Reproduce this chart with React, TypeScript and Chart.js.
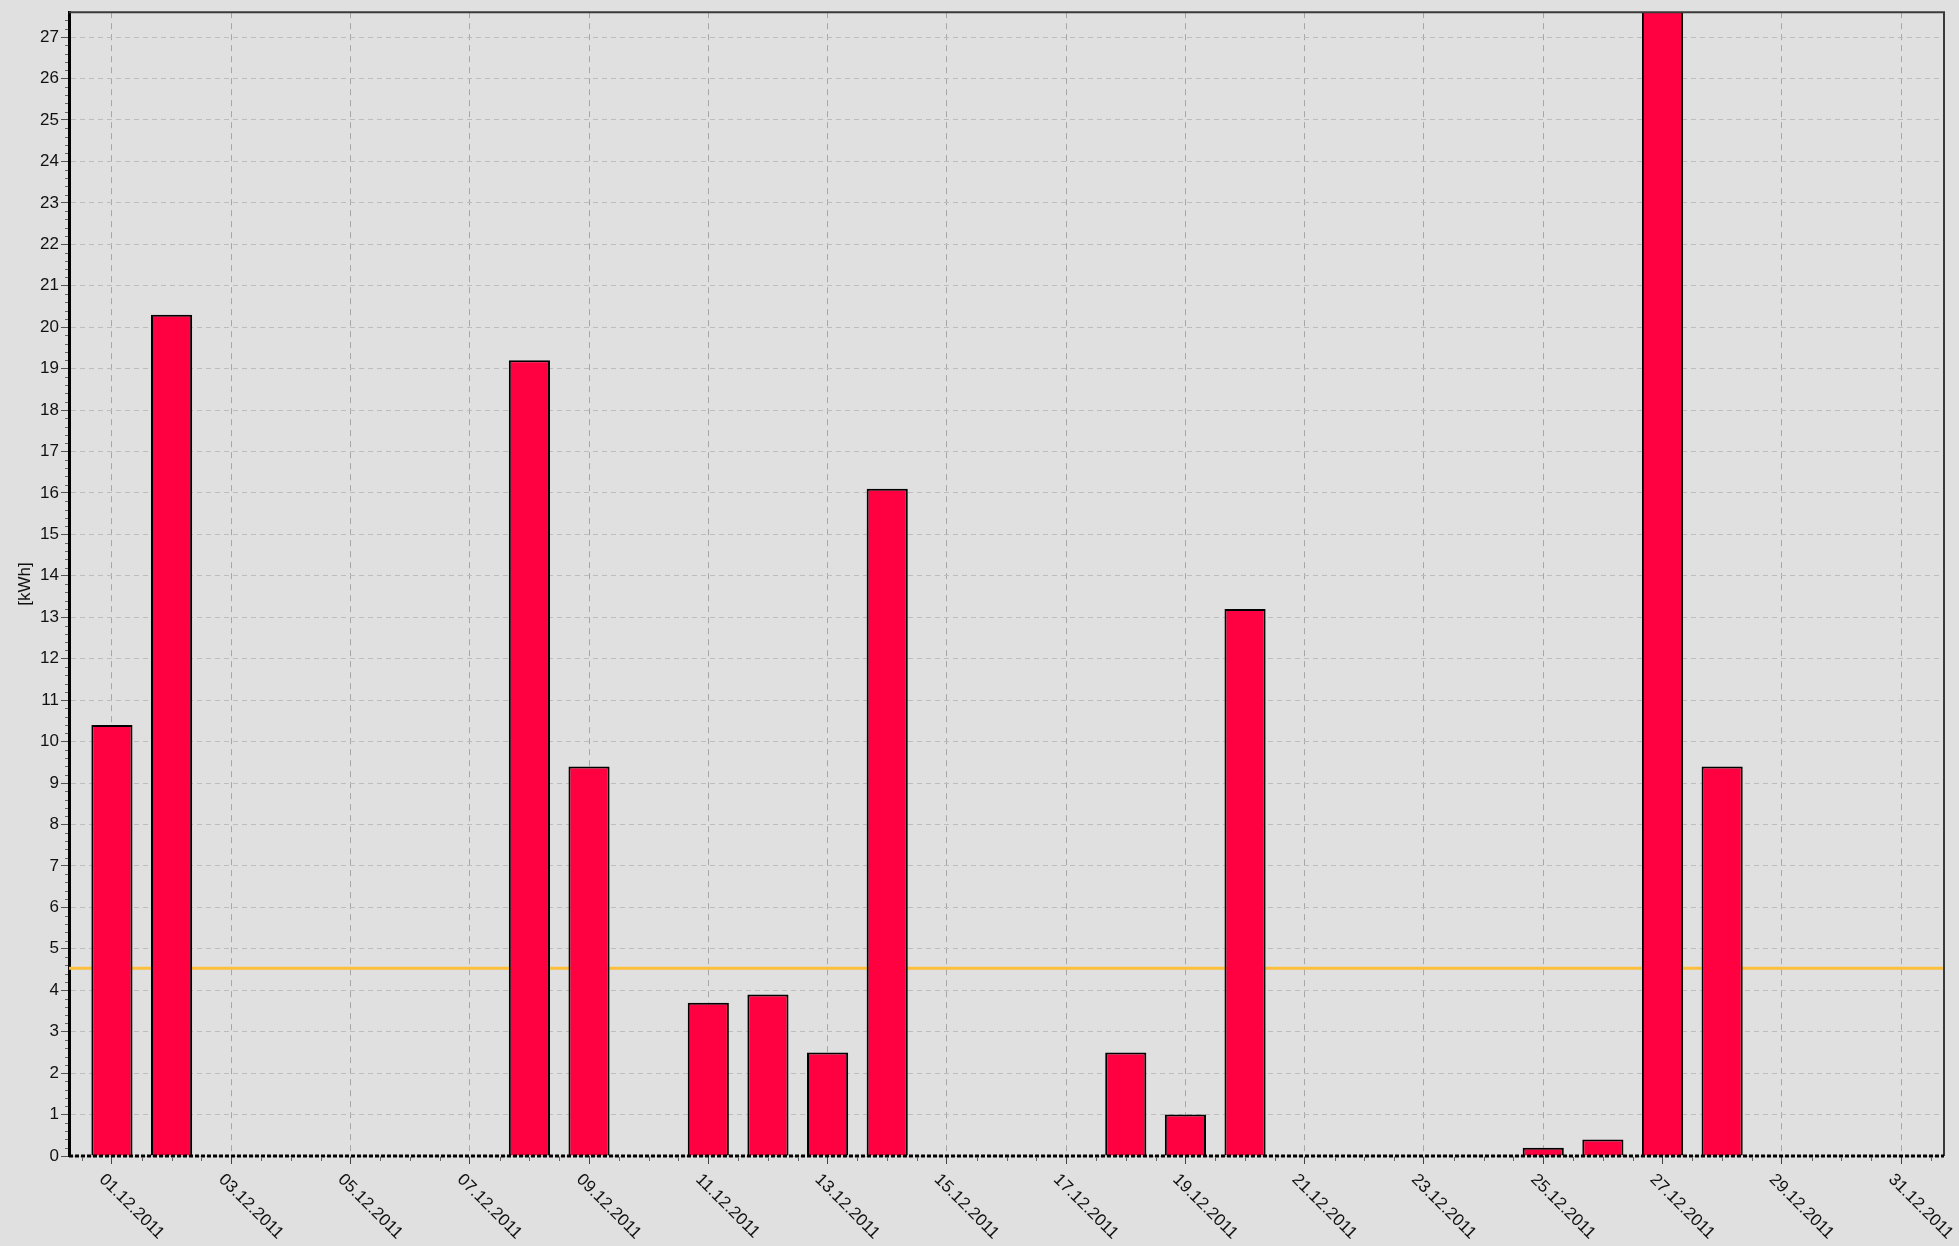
import React, { useEffect, useRef } from "react";
import { Chart, registerables } from "chart.js";

Chart.register(...registerables);

// ---- data ----
const DAYS = [
  "01.12.2011", "02.12.2011", "03.12.2011", "04.12.2011", "05.12.2011",
  "06.12.2011", "07.12.2011", "08.12.2011", "09.12.2011", "10.12.2011",
  "11.12.2011", "12.12.2011", "13.12.2011", "14.12.2011", "15.12.2011",
  "16.12.2011", "17.12.2011", "18.12.2011", "19.12.2011", "20.12.2011",
  "21.12.2011", "22.12.2011", "23.12.2011", "24.12.2011", "25.12.2011",
  "26.12.2011", "27.12.2011", "28.12.2011", "29.12.2011", "30.12.2011",
  "31.12.2011",
];
const ENERGY_KWH = [
  10.4, 20.3, 0, 0, 0, 0, 0, 19.2, 9.4, 0,
  3.7, 3.9, 2.5, 16.1, 0, 0, 0, 2.5, 1.0, 13.2,
  0, 0, 0, 0, 0.2, 0.4, 28.2, 9.4, 0, 0,
  0,
];
const Y_TICKS = [0, 1, 2, 3, 4, 5, 6, 7, 8, 9, 10, 11, 12, 13, 14, 15, 16, 17, 18, 19, 20, 21, 22, 23, 24, 25, 26, 27];
const X_LABEL_INDEXES = [0, 2, 4, 6, 8, 10, 12, 14, 16, 18, 20, 22, 24, 26, 28, 30];
const Y_TITLE = "[kWh]";

const X_MIN = -0.72;
const X_MAX = 30.72;
const Y_MIN = 0;
const Y_MAX = 27.6;

const AVERAGE = ENERGY_KWH.reduce((s, v) => s + v, 0) / ENERGY_KWH.length;

const FONT = '"Liberation Sans", Arial, sans-serif';

const decorations = {
  id: "decorations",
  afterDraw(chart: any) {
    const { ctx, chartArea: a, scales } = chart;
    const x = scales.x;
    const y = scales.y;
    ctx.save();
    // top & right frame
    ctx.strokeStyle = "#3a3a3a";
    ctx.lineWidth = 2;
    ctx.beginPath();
    ctx.moveTo(a.left, a.top);
    ctx.lineTo(a.right, a.top);
    ctx.lineTo(a.right, a.bottom);
    ctx.stroke();

    // bottom axis (dotted black)
    const y0 = y.getPixelForValue(0);
    ctx.strokeStyle = "#000";
    ctx.lineWidth = 3;
    ctx.setLineDash([4, 2]);
    ctx.beginPath();
    ctx.moveTo(a.left, y0);
    ctx.lineTo(a.right, y0);
    ctx.stroke();
    ctx.setLineDash([]);

    // minor ticks
    ctx.strokeStyle = "#666";
    ctx.lineWidth = 1;
    ctx.beginPath();
    for (let k = 1; k * 0.2 < Y_MAX; k++) {
      if (k % 5 === 0) continue;
      const py = Math.round(y.getPixelForValue(k * 0.2)) + 0.5;
      ctx.moveTo(a.left - 4, py);
      ctx.lineTo(a.left - 1, py);
    }
    for (let d = -0.5; d <= 30.5; d += 0.5) {
      if (Number.isInteger(d) && d % 2 === 0) continue;
      const px = Math.round(x.getPixelForValue(d)) + 0.5;
      ctx.moveTo(px, y0 + 1);
      ctx.lineTo(px, y0 + 5);
    }
    ctx.stroke();

    // rotated x labels
    ctx.font = `17px ${FONT}`;
    ctx.fillStyle = "#111";
    ctx.textAlign = "left";
    ctx.textBaseline = "top";
    for (const i of X_LABEL_INDEXES) {
      const px = x.getPixelForValue(i);
      ctx.save();
      ctx.translate(px - 4, a.bottom + 15);
      ctx.rotate(Math.PI / 4);
      ctx.fillText(DAYS[i], 0, 0);
      ctx.restore();
    }
    ctx.restore();
  },
};

export default function App() {
  const ref = useRef<HTMLCanvasElement | null>(null);

  useEffect(() => {
    if (!ref.current) return;
    const chart = new Chart(ref.current, {
      type: "bar",
      data: {
        datasets: [
          {
            type: "bar",
            label: "kWh",
            data: ENERGY_KWH.map((v, i) => ({ x: i, y: v })),
            backgroundColor: "#FF0040",
            borderColor: "#000000",
            borderWidth: 2,
            borderSkipped: "start",
            categoryPercentage: 1,
            barPercentage: 0.69,
            order: 1,
          } as any,
          {
            type: "line",
            label: "avg",
            data: [
              { x: X_MIN, y: AVERAGE },
              { x: X_MAX, y: AVERAGE },
            ],
            borderColor: "#FDBF3B",
            borderWidth: 3,
            pointRadius: 0,
            order: 2,
          } as any,
        ],
      },
      options: {
        responsive: false,
        animation: false,
        devicePixelRatio: 1,
        layout: { padding: { top: 11, right: 15, left: 0, bottom: 0 } },
        plugins: {
          legend: { display: false },
          tooltip: { enabled: false },
          title: { display: false },
        },
        scales: {
          x: {
            type: "linear",
            min: X_MIN,
            max: X_MAX,
            offset: false,
            afterBuildTicks: (scale: any) => {
              scale.ticks = X_LABEL_INDEXES.map((v) => ({ value: v }));
            },
            afterFit: (scale: any) => {
              scale.height = 90;
            },
            ticks: { display: false },
            grid: {
              offset: false,
              color: "#a6a6a6",
              lineWidth: 1,
              drawTicks: true,
              tickLength: 8,
              tickColor: "#444",
              tickWidth: 1,
              tickBorderDash: [],
            },
            border: { display: false, dash: [6, 5] },
          },
          y: {
            type: "linear",
            min: Y_MIN,
            max: Y_MAX,
            afterBuildTicks: (scale: any) => {
              scale.ticks = Y_TICKS.map((v) => ({ value: v }));
            },
            afterFit: (scale: any) => {
              scale.width = 69;
            },
            ticks: {
              color: "#111",
              font: { family: FONT, size: 17 },
              padding: 2,
            },
            title: {
              display: true,
              text: Y_TITLE,
              color: "#111",
              font: { family: FONT, size: 17 },
              padding: { top: 15, bottom: 0 },
            },
            grid: {
              color: "#bdbdbd",
              lineWidth: 1,
              drawTicks: true,
              tickLength: 8,
              tickColor: "#555",
              tickWidth: 1,
              tickBorderDash: [],
            },
            border: { display: true, color: "#000", width: 3, dash: [5, 4] },
          },
        },
      } as any,
      plugins: [decorations],
    });
    return () => chart.destroy();
  }, []);

  return (
    <div
      style={{
        position: "fixed",
        left: 0,
        top: 0,
        width: 1959,
        height: 1246,
        background: "#e0e0e0",
      }}
    >
      <canvas ref={ref} width={1959} height={1246} style={{ display: "block" }} />
    </div>
  );
}
